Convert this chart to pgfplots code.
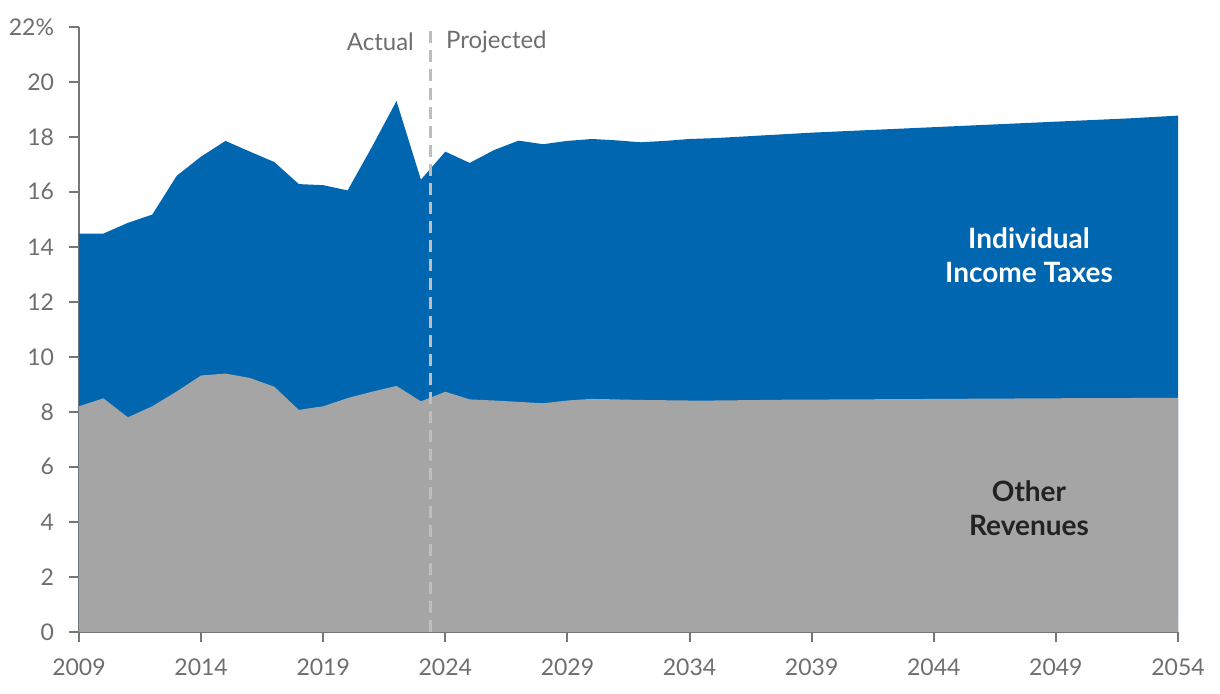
\documentclass[border=0pt]{standalone}
\usepackage{pgfplots}
\pgfplotsset{compat=1.18}
\usepackage{fontspec}
\setmainfont{Lato}
\definecolor{blueA}{RGB}{0,102,176}
\definecolor{grayA}{RGB}{165,165,165}
\definecolor{axisgray}{RGB}{118,118,118}
\definecolor{textgray}{RGB}{110,110,110}
\definecolor{dashgray}{RGB}{190,190,190}
\definecolor{darktext}{RGB}{34,34,34}
\begin{document}
\begin{tikzpicture}
\begin{axis}[
  scale only axis,
  width=549.5pt, height=302.5pt,
  xmin=2009, xmax=2054, ymin=0, ymax=22,
  axis x line*=bottom, axis y line*=left,
  axis line style={axisgray, line width=1pt},
  xtick={2009,2014,...,2054},
  ytick={0,2,...,22},
  yticklabels={0,2,4,6,8,10,12,14,16,18,20,22\%},
  tick align=outside,
  major tick length=5pt,
  tick style={axisgray, line width=1pt},
  xticklabel style={/pgf/number format/1000 sep={}, yshift=-5pt},
  yticklabel style={xshift=-4pt},
  /pgf/number format/assume math mode=true,
  tick label style={font=\fontsize{11.5}{13}\selectfont, text=textgray},
  clip=false,
]
\addplot[fill=blueA, draw=none] coordinates {
(2009,14.48)(2010,14.48)(2011,14.87)(2012,15.17)(2013,16.58)(2014,17.28)(2015,17.85)
(2016,17.46)(2017,17.08)(2018,16.28)(2019,16.24)(2020,16.05)(2021,17.64)(2022,19.30)
(2023,16.44)(2024,17.46)(2025,17.05)(2026,17.52)(2027,17.86)(2028,17.73)(2029,17.85)
(2030,17.92)(2031,17.87)(2032,17.80)(2033,17.85)(2034,17.92)(2035,17.95)(2036,18.00)
(2037,18.05)(2038,18.10)(2039,18.15)(2040,18.19)(2041,18.23)(2042,18.27)(2043,18.31)
(2044,18.35)(2045,18.39)(2046,18.43)(2047,18.47)(2048,18.51)(2049,18.55)(2050,18.59)
(2051,18.63)(2052,18.67)(2053,18.72)(2054,18.77)
} \closedcycle;
\addplot[fill=grayA, draw=none] coordinates {
(2009,8.20)(2010,8.49)(2011,7.80)(2012,8.20)(2013,8.74)(2014,9.32)(2015,9.39)
(2016,9.23)(2017,8.91)(2018,8.07)(2019,8.20)(2020,8.50)(2021,8.73)(2022,8.94)
(2023,8.38)(2024,8.73)(2025,8.45)(2026,8.41)(2027,8.36)(2028,8.31)(2029,8.41)
(2030,8.47)(2031,8.45)(2032,8.43)(2033,8.42)(2034,8.41)(2035,8.41)(2036,8.42)
(2037,8.43)(2038,8.44)(2039,8.44)(2040,8.45)(2041,8.45)(2042,8.46)(2043,8.46)
(2044,8.47)(2045,8.47)(2046,8.48)(2047,8.48)(2048,8.49)(2049,8.49)(2050,8.50)
(2051,8.50)(2052,8.50)(2053,8.51)(2054,8.51)
} \closedcycle;
\addplot[dashgray, line width=1.7pt, dash pattern=on 6pt off 3.5pt] coordinates {(2023.4,0)(2023.4,22)};
\node[anchor=east, text=textgray, font=\fontsize{12}{14}\selectfont] at (axis cs:2023.0,21.45) {Actual};
\node[anchor=west, text=textgray, font=\fontsize{12}{14}\selectfont] at (axis cs:2023.74,21.45) {Projected};
\node[align=center, text=white, font=\bfseries\fontsize{14}{17}\selectfont] at (axis cs:2047.9,13.7) {Individual\\Income Taxes};
\node[align=center, text=darktext, font=\bfseries\fontsize{14}{17}\selectfont] at (axis cs:2047.9,4.5) {Other\\Revenues};
\end{axis}
\pgfresetboundingbox
\path ([shift={(-39.5pt,-31pt)}]current axis.south west) rectangle ([shift={(21pt,13.4pt)}]current axis.north east);
\end{tikzpicture}
\end{document}
